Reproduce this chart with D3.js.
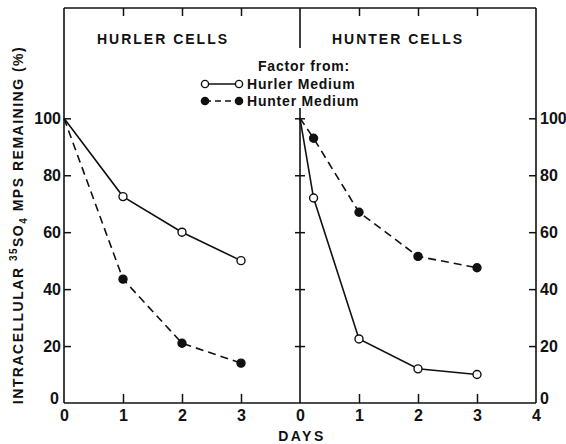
<!DOCTYPE html>
<html><head><meta charset="utf-8">
<script src="https://cdn.jsdelivr.net/npm/d3@7"></script>
<style>
body{margin:0;background:#fff;}
text{font-family:"Liberation Sans",Arial,sans-serif;font-weight:bold;fill:#111;}
</style></head>
<body><svg id="c" width="566" height="444"></svg>
<script>
// Data
const panels = ["HURLER CELLS", "HUNTER CELLS"];
const seriesNames = ["Hurler Medium", "Hunter Medium"];
// Hurler cells panel
const hurlerCellsDays = [0, 1, 2, 3];
const hurlerCells_HurlerMedium = [100, 72.5, 60, 50];
const hurlerCells_HunterMedium = [100, 43.5, 21, 14];
// Hunter cells panel
const hunterCellsDays = [0, 0.23, 1, 2, 3];
const hunterCells_HurlerMedium = [100, 72, 22.5, 12, 10];
const hunterCells_HunterMedium = [100, 93, 67, 51.5, 47.5];
const yTicks = [0, 20, 40, 60, 80, 100];
const xTicksLeft = [0, 1, 2, 3];
const xTicksRight = [0, 1, 2, 3, 4];

const svg = d3.select("#c");
const x0 = 64, xMid = 300, x1 = 536, yBot = 403, yTop = 8;
const y = d3.scaleLinear().domain([0, 100]).range([yBot, 118.3]);
const xL = d3.scaleLinear().domain([0, 4]).range([x0, xMid]);
const xR = d3.scaleLinear().domain([0, 4]).range([xMid, x1]);
const ink = "#111";
const fmt = d3.format("d");

function style(g){
  g.select(".domain").remove();
  g.selectAll("line").attr("stroke", ink).attr("stroke-width", 1.5);
  g.selectAll("text").attr("font-size", 16).attr("fill", ink).attr("font-family", "Liberation Sans, Arial, sans-serif").attr("font-weight","bold");
}

// frame
const frame = svg.append("g").attr("stroke", ink).attr("stroke-width", 1.6).attr("fill", "none");
frame.append("line").attr("x1", x0).attr("x2", x1).attr("y1", yTop).attr("y2", yTop);
frame.append("line").attr("x1", x0).attr("x2", x1).attr("y1", yBot).attr("y2", yBot);
frame.append("line").attr("x1", x0).attr("x2", x0).attr("y1", yTop).attr("y2", yBot);
frame.append("line").attr("x1", x1).attr("x2", x1).attr("y1", yTop).attr("y2", yBot);
frame.append("line").attr("x1", xMid).attr("x2", xMid).attr("y1", yTop).attr("y2", 48);
frame.append("line").attr("x1", xMid).attr("x2", xMid).attr("y1", 108).attr("y2", yBot);

// left y axis (inward ticks)
svg.append("g").attr("transform", `translate(${x0},0)`)
  .call(d3.axisLeft(y).tickValues(yTicks).tickSizeInner(-7).tickSizeOuter(0).tickPadding(3).tickFormat(fmt))
  .call(style).call(g => g.selectAll(".tick").filter(d => d === 0).select("line").remove())
  .call(g => g.selectAll(".tick").filter(d => d === 0).select("text").attr("dy", "0.05em").attr("x", -5));
// right y axis
svg.append("g").attr("transform", `translate(${x1},0)`)
  .call(d3.axisRight(y).tickValues(yTicks).tickSizeInner(-7).tickSizeOuter(0).tickPadding(4).tickFormat(fmt))
  .call(style).call(g => g.selectAll(".tick").filter(d => d === 0).select("line").remove())
  .call(g => g.selectAll(".tick").filter(d => d === 0).select("text").attr("dy", "0.05em").attr("x", 4));
// middle crossing ticks
const midVals = yTicks.filter(d => d > 0);
svg.append("g").attr("transform", `translate(${xMid},0)`)
  .call(d3.axisLeft(y).tickValues(midVals).tickSize(5).tickFormat(""))
  .call(style);
svg.append("g").attr("transform", `translate(${xMid},0)`)
  .call(d3.axisRight(y).tickValues(midVals).tickSize(5).tickFormat(""))
  .call(style);

// bottom axes
svg.append("g").attr("transform", `translate(0,${yBot})`)
  .call(d3.axisBottom(xL).tickValues(xTicksLeft).tickSizeInner(-9).tickSizeOuter(0).tickPadding(7).tickFormat(fmt))
  .call(style).call(g => g.selectAll(".tick").filter(d => d === 0).select("line").remove());
svg.append("g").attr("transform", `translate(0,${yBot})`)
  .call(d3.axisBottom(xR).tickValues(xTicksRight).tickSizeInner(-9).tickSizeOuter(0).tickPadding(7).tickFormat(fmt))
  .call(style).call(g => g.selectAll(".tick").filter(d => d === 0 || d === 4).select("line").remove());
// top ticks
[xL, xR].forEach(sc => {
  svg.append("g").attr("transform", `translate(0,${yTop})`)
    .call(d3.axisTop(sc).tickValues([1, 2, 3]).tickSizeInner(-8).tickSizeOuter(0).tickFormat(""))
    .call(style);
});

// panel titles
svg.append("text").attr("x", 163).attr("y", 44).attr("text-anchor", "middle")
  .attr("font-size", 14).attr("letter-spacing", 2).text(panels[0]);
svg.append("text").attr("x", 398).attr("y", 44).attr("text-anchor", "middle")
  .attr("font-size", 14).attr("letter-spacing", 2).text(panels[1]);

// axis titles
svg.append("text").attr("x", 302).attr("y", 441).attr("text-anchor", "middle")
  .attr("font-size", 14).attr("letter-spacing", 2.5).text("DAYS");
const yl = svg.append("text").attr("transform", "translate(23,225) rotate(-90)")
  .attr("text-anchor", "middle").attr("font-size", 14).attr("letter-spacing", 1.5);
yl.append("tspan").text("INTRACELLULAR ");
yl.append("tspan").attr("font-size", 10).attr("dy", -6).text("35");
yl.append("tspan").attr("dy", 6).text("SO");
yl.append("tspan").attr("font-size", 10).attr("dy", 4).text("4");
yl.append("tspan").attr("dy", -4).text(" MPS REMAINING (%)");

// lines
function drawSeries(sc, days, vals, dashed, filled){
  const l = d3.line().x((d, i) => sc(days[i])).y(d => y(d));
  svg.append("path").datum(vals).attr("d", l).attr("fill", "none").attr("stroke", ink)
    .attr("stroke-width", 1.6).attr("stroke-dasharray", dashed ? "8,5" : null);
  svg.selectAll(null).data(vals.slice(1)).enter().append("circle")
    .attr("cx", (d, i) => sc(days[i + 1])).attr("cy", d => y(d)).attr("r", 4)
    .attr("fill", filled ? ink : "#fff").attr("stroke", ink).attr("stroke-width", 1.4);
}
drawSeries(xL, hurlerCellsDays, hurlerCells_HurlerMedium, false, false);
drawSeries(xL, hurlerCellsDays, hurlerCells_HunterMedium, true, true);
drawSeries(xR, hunterCellsDays, hunterCells_HurlerMedium, false, false);
drawSeries(xR, hunterCellsDays, hunterCells_HunterMedium, true, true);

// legend
const lg = svg.append("g");
lg.append("text").attr("x", 258).attr("y", 71).attr("font-size", 14).attr("letter-spacing", 0.8).text("Factor  from:");
const items = [{name: seriesNames[0], dashed: false, filled: false, yy: 84},
               {name: seriesNames[1], dashed: true, filled: true, yy: 101}];
items.forEach(it => {
  lg.append("line").attr("x1", 205).attr("x2", 239).attr("y1", it.yy).attr("y2", it.yy)
    .attr("stroke", ink).attr("stroke-width", 1.6).attr("stroke-dasharray", it.dashed ? "6,4" : null);
  [205, 239].forEach(cx => lg.append("circle").attr("cx", cx).attr("cy", it.yy).attr("r", 3.6)
    .attr("fill", it.filled ? ink : "#fff").attr("stroke", ink).attr("stroke-width", 1.4));
  lg.append("text").attr("x", 247).attr("y", it.yy + 5).attr("font-size", 14).attr("letter-spacing", 0.8).text(it.name.replace(" ", "  "));
});
</script></body></html>
